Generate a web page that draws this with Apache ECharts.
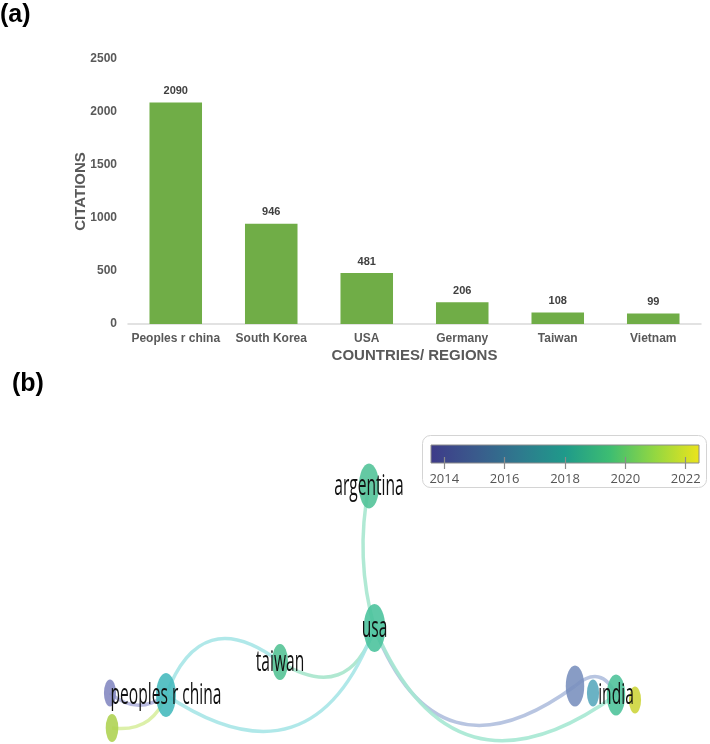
<!DOCTYPE html>
<html lang="en">
<head>
<meta charset="UTF-8">
<title>Citations by country / co-authorship map</title>
<script src="https://cdn.jsdelivr.net/npm/echarts@6.0.0/dist/echarts.min.js"></script>
<style>
    html, body { margin: 0; padding: 0; background: #fff; }
    #container { width: 710px; height: 744px; }
</style>
</head>
<body>
<div id="container"></div>
<script type="text/javascript">
    // (a) citations per country
    let countries = ['Peoples r china', 'South Korea', 'USA', 'Germany', 'Taiwan', 'Vietnam'];
    let citations = [2090, 946, 481, 206, 108, 99];
    let citationTicks = [0, 500, 1000, 1500, 2000, 2500];

    // (b) country map: map coords, size (diameter), avg. publication year
    let nodeIds = ['argentina', 'usa', 'taiwan', 'peoples r china', 'cn-a', 'cn-b', 'in-a', 'in-b', 'india', 'in-c'];
    let nodeLabels = ['argentina', 'usa', 'taiwan', 'peoples r china', '', '', '', '', 'india', ''];
    let nodeX = [369, 374.5, 280, 166, 110, 112, 575, 593, 616, 635];
    let nodeY = [486, 628, 662, 695, 693, 728, 686, 693, 695, 700];
    let nodeSize = [45, 48, 36, 44, 27, 28, 41, 27, 41, 27];
    let nodeYear = [2018.8, 2018.6, 2018.9, 2017.2, 2013.9, 2021.4, 2014.8, 2016.5, 2018.7, 2022.1];

    // links (source gives the colour), curveness as in the map
    let linkSource = ['argentina', 'peoples r china', 'taiwan', 'peoples r china', 'in-a', 'usa', 'in-a', 'cn-a', 'cn-b'];
    let linkTarget = ['usa', 'taiwan', 'usa', 'usa', 'usa', 'india', 'india', 'peoples r china', 'peoples r china'];
    let linkCurve = [-0.12, 0.67, -0.63, -0.63, 0.65, -0.625, 0.66, -0.4, -0.4];

    // colour scale
    let yearMin = 2013.56, yearMax = 2022.44;
    let yearTicks = [2014, 2016, 2018, 2020, 2022];
    let viridis = ['#3e3b89', '#3a5a8c', '#2e7a8e', '#1f9a8a', '#3dbd72', '#93d741', '#ece41c'];

    let dom = document.getElementById('container');
    let myChart = echarts.init(dom);

    // small rgb <-> hsl helpers, used to lighten map colours
    let toHsl = function (c) {
        let a = echarts.color.parse(c);
        let r = a[0] / 255, g = a[1] / 255, b = a[2] / 255;
        let max = Math.max(r, g, b), min = Math.min(r, g, b);
        let l = (max + min) / 2, h = 0, s = 0;
        if (max !== min) {
            let d = max - min;
            s = d / (1 - Math.abs(2 * l - 1));
            if (max === r) h = ((g - b) / d) % 6;
            else if (max === g) h = (b - r) / d + 2;
            else h = (r - g) / d + 4;
            h *= 60;
            if (h < 0) h += 360;
        }
        return [h, s, l];
    };
    let fromHsl = function (h, s, l) {
        let c = (1 - Math.abs(2 * l - 1)) * s;
        let x = c * (1 - Math.abs((h / 60) % 2 - 1));
        let m = l - c / 2;
        let rgb = h < 60 ? [c, x, 0] : h < 120 ? [x, c, 0] : h < 180 ? [0, c, x]
            : h < 240 ? [0, x, c] : h < 300 ? [x, 0, c] : [c, 0, x];
        return 'rgb(' + rgb.map(function (v) { return Math.round((v + m) * 255); }).join(',') + ')';
    };

    let yearT = function (y) { return (y - yearMin) / (yearMax - yearMin); };
    let yearColor = function (y) { return echarts.color.lerp(yearT(y), viridis); };
    let nodeColor = function (y) {
        let hsl = toHsl(yearColor(y));
        return fromHsl(hsl[0], hsl[1] * 0.85, Math.min(0.9, hsl[2] + 0.25 * (1 - yearT(y))));
    };
    let edgeColor = function (y) {
        let hsl = toHsl(yearColor(y));
        return fromHsl(hsl[0], hsl[1], 0.78);
    };

    let nodes = nodeIds.map(function (id, i) {
        return {
            name: id,
            value: [nodeX[i], nodeY[i]],
            symbolSize: [nodeSize[i] * 0.45, nodeSize[i]],
            itemStyle: { color: nodeColor(nodeYear[i]), opacity: 0.88 }
        };
    });
    let links = linkSource.map(function (s, i) {
        return {
            source: s,
            target: linkTarget[i],
            lineStyle: { curveness: linkCurve[i], color: edgeColor(nodeYear[nodeIds.indexOf(s)]) }
        };
    });

    let gradStops = viridis.map(function (c, i) {
        return { offset: i / (viridis.length - 1), color: c };
    });

    let axisFont = { fontFamily: 'Liberation Sans, Arial, sans-serif', fontWeight: 'bold', color: '#595959' };
    let plain = function (v) { return String(v); };

    let option = {
        animation: false,
        backgroundColor: '#ffffff',
        graphic: [
            { type: 'text', left: 0, top: 3, style: { text: '(a)', font: 'bold 25px Liberation Sans, Arial, sans-serif', fill: '#000' } },
            { type: 'text', left: 12, top: 372, style: { text: '(b)', font: 'bold 25px Liberation Sans, Arial, sans-serif', fill: '#000' } },
            { type: 'rect', left: 422, top: 435, z: -1,
              shape: { width: 284, height: 52, r: 8 },
              style: { fill: '#fff', stroke: '#d4d4d4', lineWidth: 1 } }
        ],
        grid: [
            { left: 128, right: 9, top: 59, bottom: 420, outerBoundsMode: 'none' },
            { left: 431, width: 268, top: 445, height: 24, outerBoundsMode: 'none' },
            { left: 0, right: 0, top: 0, bottom: 0, outerBoundsMode: 'none' }
        ],
        xAxis: [
            {
                gridIndex: 0,
                type: 'category',
                data: countries,
                axisLine: { lineStyle: { color: '#d9d9d9', width: 1.5 } },
                axisTick: { show: false },
                axisLabel: Object.assign({ fontSize: 12, margin: 9, interval: 0 }, axisFont),
                name: 'COUNTRIES/ REGIONS',
                nameLocation: 'middle',
                nameGap: 24,
                nameTextStyle: Object.assign({}, axisFont, { fontSize: 15 })
            },
            {
                gridIndex: 1,
                type: 'value',
                min: yearMin,
                max: yearMax,
                z: 5,
                splitLine: { show: false },
                axisLine: { show: true, lineStyle: { color: 'rgba(0,0,0,0)' } },
                axisTick: { show: true, inside: true, length: 12, customValues: yearTicks, lineStyle: { color: '#8a8a8a', width: 1.2 } },
                axisLabel: { customValues: yearTicks, formatter: plain, margin: 4, fontSize: 13, color: '#555', fontFamily: 'Open Sans' }
            },
            { gridIndex: 2, type: 'value', min: 0, max: 710, show: false }
        ],
        yAxis: [
            {
                gridIndex: 0,
                type: 'value',
                min: 0,
                max: 2500,
                interval: 500,
                splitLine: { show: false },
                axisLine: { show: false },
                axisTick: { show: false },
                axisLabel: Object.assign({
                    fontSize: 12,
                    margin: 11,
                    customValues: citationTicks,
                    formatter: plain
                }, axisFont),
                name: 'CITATIONS',
                nameLocation: 'middle',
                nameGap: 40,
                nameMoveOverlap: false,
                nameTextStyle: Object.assign({}, axisFont, { fontSize: 15 })
            },
            { gridIndex: 1, type: 'value', min: 0, max: 1, show: false },
            { gridIndex: 2, type: 'value', min: 0, max: 744, inverse: true, show: false }
        ],
        series: [
            {
                type: 'bar',
                xAxisIndex: 0,
                yAxisIndex: 0,
                data: citations,
                barCategoryGap: '45%',
                itemStyle: { color: '#70ad47' },
                label: {
                    show: true,
                    position: 'top',
                    distance: 6,
                    fontSize: 11,
                    fontWeight: 'bold',
                    fontFamily: 'Liberation Sans, Arial, sans-serif',
                    color: '#404040'
                }
            },
            {
                // colour bar: spans the year range, upper 3/4 of its grid
                type: 'custom',
                xAxisIndex: 1,
                yAxisIndex: 1,
                z: 1,
                data: [[yearMin, yearMax]],
                encode: { x: [0, 1] },
                renderItem: function (params, api) {
                    let p0 = api.coord([api.value(0), 1]);
                    let p1 = api.coord([api.value(1), 0.25]);
                    return {
                        type: 'rect',
                        shape: { x: p0[0], y: p0[1], width: p1[0] - p0[0], height: p1[1] - p0[1] },
                        style: {
                            fill: new echarts.graphic.LinearGradient(0, 0, 1, 0, gradStops),
                            stroke: '#8a8a8a',
                            lineWidth: 1
                        }
                    };
                }
            },
            {
                type: 'graph',
                coordinateSystem: 'cartesian2d',
                xAxisIndex: 2,
                yAxisIndex: 2,
                symbol: 'circle',
                data: nodes,
                links: links,
                label: { show: false },
                lineStyle: { width: 3.5, opacity: 0.9 },
                emphasis: { disabled: true }
            },
            {
                type: 'custom',
                xAxisIndex: 2,
                yAxisIndex: 2,
                z: 10,
                data: nodeIds.map(function (id, i) { return [nodeX[i], nodeY[i]]; }),
                renderItem: function (params, api) {
                    let p = api.coord([api.value(0), api.value(1)]);
                    return {
                        type: 'text',
                        x: p[0],
                        y: p[1],
                        scaleX: 0.52,
                        style: {
                            text: nodeLabels[params.dataIndex],
                            font: '30px "Open Sans", sans-serif',
                            fill: '#111111',
                            align: 'center',
                            verticalAlign: 'middle'
                        }
                    };
                }
            }
        ]
    };
    myChart.setOption(option);
</script>
</body>
</html>
